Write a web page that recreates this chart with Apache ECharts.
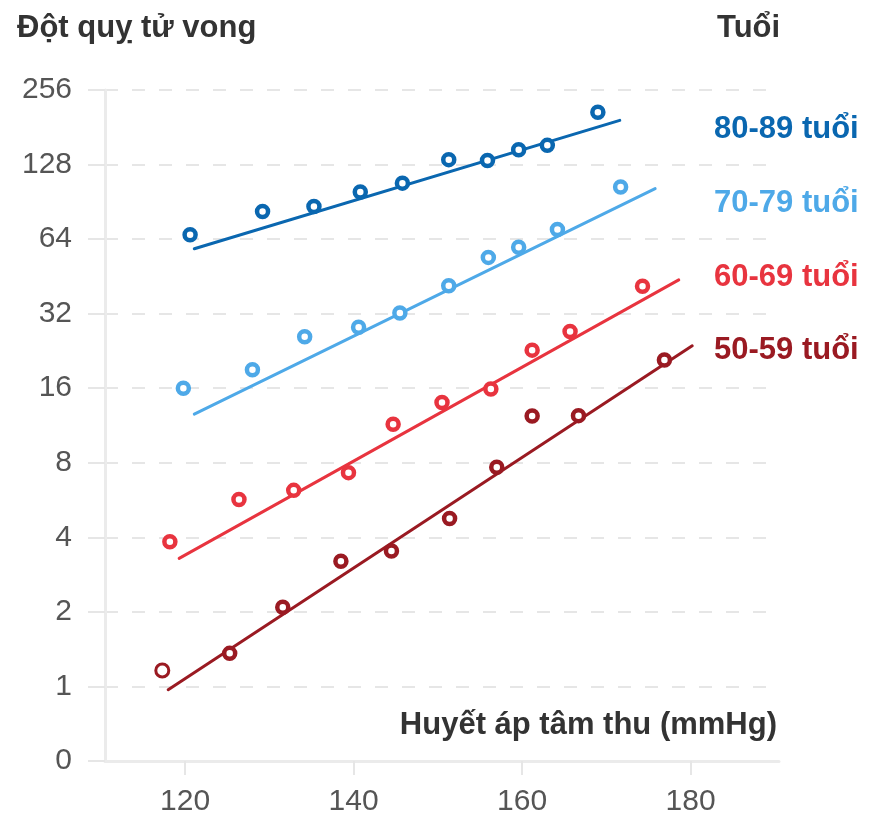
<!DOCTYPE html>
<html>
<head>
<meta charset="utf-8">
<script src="https://cdn.jsdelivr.net/npm/echarts@6.0.0/dist/echarts.min.js"></script>
<style>
  html, body { margin: 0; padding: 0; background: #fff; }
  #chart { width: 869px; height: 817px; }
</style>
</head>
<body>
<div id="chart"></div>
<script>
// Stroke mortality (log2 scale) against systolic blood pressure, by age group
const groupNames = ['80-89 tuổi', '70-79 tuổi', '60-69 tuổi', '50-59 tuổi'];
const groupColors = ['#0a67b0', '#4ea9e8', '#e8343f', '#9a1a22'];

// observed points: systolic pressure (mmHg) and deaths
const sbp80 = [120.6, 129.2, 135.3, 140.8, 145.8, 151.3, 155.9, 159.6, 163.0, 169.0];
const deaths80 = [66.6, 82.8, 86.7, 99.1, 107.7, 134, 133, 147, 153, 208];
const sbp70 = [119.8, 128.0, 134.2, 140.6, 145.5, 151.3, 156.0, 159.6, 164.2, 171.7];
const deaths70 = [16.0, 19.0, 25.8, 28.2, 32.2, 41.5, 54.0, 59.3, 70.0, 103.8];
const sbp60 = [118.2, 126.4, 132.9, 139.4, 144.7, 150.5, 156.3, 161.2, 165.7, 174.3];
const deaths60 = [3.84, 5.69, 6.19, 7.30, 11.45, 14.0, 15.9, 22.8, 27.1, 41.3];
const sbp50 = [117.3, 125.3, 131.6, 138.5, 144.5, 151.4, 157.0, 161.2, 166.7, 176.9];
const deaths50 = [1.16, 1.36, 2.09, 3.20, 3.52, 4.77, 7.68, 12.37, 12.4, 20.8];

// fitted trend lines: end points
const fitSbp80 = [121.1, 171.6];
const fitDeaths80 = [58.5, 193];
const fitSbp70 = [121.1, 175.8];
const fitDeaths70 = [12.57, 102.3];
const fitSbp60 = [119.3, 178.6];
const fitDeaths60 = [3.29, 43.8];
const fitSbp50 = [118.0, 180.2];
const fitDeaths50 = [0.97, 23.75];

// axis ticks
const xTicks = [120, 140, 160, 180];
const yTitle = 'Đột quỵ tử vong';
const xTitle = 'Huyết áp tâm thu (mmHg)';
const legendTitle = 'Tuổi';

const FONT = '"Liberation Sans", Arial, sans-serif';

const points = [[sbp80, deaths80], [sbp70, deaths70], [sbp60, deaths60], [sbp50, deaths50]];
const fits = [[fitSbp80, fitDeaths80], [fitSbp70, fitDeaths70], [fitSbp60, fitDeaths60], [fitSbp50, fitDeaths50]];

const series = [];
groupNames.forEach((name, i) => {
  const [fx, fy] = fits[i];
  series.push({
    name: name + ' fit',
    type: 'line',
    data: fx.map((x, k) => [x, fy[k]]),
    showSymbol: false,
    silent: true,
    z: 2,
    lineStyle: { color: groupColors[i], width: 3, cap: 'round' }
  });
});
groupNames.forEach((name, i) => {
  const [px, py] = points[i];
  series.push({
    name: name,
    type: 'scatter',
    z: 3,
    symbol: 'circle',
    symbolSize: 11,
    itemStyle: { color: '#fff', borderColor: groupColors[i], borderWidth: 4.5, opacity: 1 },
    data: px.map((x, k) => {
      const item = { value: [x, py[k]] };
      // lowest reading of the youngest group is drawn as a lighter ring
      if (i === 3 && k === 0) {
        item.symbolSize = 13;
        item.itemStyle = { borderWidth: 3 };
      }
      return item;
    })
  });
});

// right-hand age labels, one per band between grid lines
const legendY = [129, 203, 277, 350];

const chart = echarts.init(document.getElementById('chart'), null, { renderer: 'canvas' });
chart.setOption({
  animation: false,
  backgroundColor: '#fff',
  grid: { left: 105, right: 90, top: 90, bottom: 55, containLabel: false },
  xAxis: {
    type: 'value',
    min: 110.5,
    max: 190.5,
    splitLine: { show: false },
    axisLine: { show: true, lineStyle: { color: '#ebebeb', width: 3 } },
    axisTick: { show: true, customValues: xTicks, length: 14, lineStyle: { color: '#e6e6e6', width: 2 } },
    axisLabel: { customValues: xTicks, margin: 26, fontSize: 30, color: '#555', fontFamily: FONT }
  },
  yAxis: {
    type: 'log',
    logBase: 2,
    min: 0.5,
    max: 256,
    splitNumber: 9,
    axisLine: { show: true, lineStyle: { color: '#ebebeb', width: 3 } },
    axisTick: { show: true, length: 17, lineStyle: { color: '#e6e6e6', width: 2 } },
    splitLine: { show: true, lineStyle: { color: '#e6e6e6', width: 2, type: [13, 14] } },
    axisLabel: {
      margin: 33, fontSize: 30, color: '#555', fontFamily: FONT,
      formatter: v => (v < 0.99 ? '0' : String(Math.round(v)))
    }
  },
  series: series,
  graphic: [
    { type: 'text', x: 17, y: 28, style: { text: yTitle, font: 'bold 31px ' + FONT, fill: '#333', verticalAlign: 'middle' } },
    { type: 'text', x: 717, y: 28, style: { text: legendTitle, font: 'bold 31px ' + FONT, fill: '#333', verticalAlign: 'middle' } },
    { type: 'text', x: 777, y: 725, style: { text: xTitle, font: 'bold 31px ' + FONT, fill: '#333', align: 'right', verticalAlign: 'middle' } }
  ].concat(groupNames.map((name, i) => ({
    type: 'text', x: 714, y: legendY[i],
    style: { text: name, font: 'bold 31px ' + FONT, fill: groupColors[i], verticalAlign: 'middle' }
  })))
});
</script>
</body>
</html>
